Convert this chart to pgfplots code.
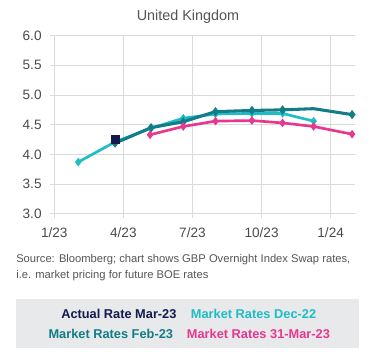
\documentclass[border=0pt]{standalone}
\usepackage{pgfplots}
\pgfplotsset{compat=1.18}
\usepackage{fontspec}
\setmainfont{Liberation Sans}
\definecolor{navy}{HTML}{141A4C}
\definecolor{cyanl}{HTML}{1EBDC5}
\definecolor{tealc}{HTML}{137D87}
\definecolor{pinkc}{HTML}{E8378F}
\definecolor{gridc}{HTML}{DADADA}
\definecolor{txtg}{HTML}{555555}
\definecolor{tickg}{HTML}{4A4A4A}
\definecolor{boxg}{HTML}{E8E9EB}
\begin{document}
\begin{tikzpicture}
\useasboundingbox (0,0) rectangle (281.25pt,273pt);
\begin{axis}[
  at={(40.725pt,112.725pt)}, anchor=south west,
  scale only axis, width=225.75pt, height=133.5pt,
  xmin=0, xmax=13.07, ymin=3, ymax=6,
  axis line style={draw=none},
  xtick={0,3,6,9,12}, xticklabels={1/23,4/23,7/23,10/23,1/24},
  ytick={3,3.5,4,4.5,5,5.5,6},
  /pgf/number format/fixed,
  /pgf/number format/fixed zerofill,
  /pgf/number format/precision=1,
  /pgf/number format/assume math mode=true,
  tick label style={font=\fontsize{10.2}{12}\selectfont, text=tickg},
  xticklabel style={yshift=-4pt},
  yticklabel style={xshift=-3pt},
  grid=major, major grid style={draw=gridc, line width=0.7pt},
  tick style={draw=gridc, line width=0.7pt},
  tick align=outside, major tick length=3pt,
  xtick pos=bottom, ytick pos=left,
  clip=false,
]
\addplot[cyanl, line width=2pt, mark=diamond*, mark size=1.6pt, mark options={solid}] coordinates {
 (1.04,3.87) (2.64,4.21) (4.2,4.44) (5.6,4.61) (7.0,4.68) (8.58,4.69) (9.91,4.69) (11.26,4.56)};
\addplot[tealc, line width=2.3pt, mark=diamond*, mark size=1.6pt, mark indices={1,2,3,4,5,6,8}] coordinates {
 (2.64,4.19) (4.2,4.45) (5.6,4.55) (7.0,4.72) (8.58,4.74) (9.91,4.75) (11.26,4.77) (12.93,4.67)};
\addplot[pinkc, line width=2pt, mark=diamond*, mark size=1.6pt] coordinates {
 (4.16,4.33) (5.6,4.47) (7.0,4.56) (8.58,4.57) (9.91,4.53) (11.26,4.47) (12.93,4.34)};
\addplot[only marks, mark=square*, mark size=3pt, navy] coordinates {(2.64,4.25)};
\end{axis}
\node[anchor=base, text=txtg, font=\fontsize{10.8}{13}\selectfont] at (141pt,257.5pt) {United Kingdom};
\node[anchor=base west, inner sep=0pt, text=txtg, font=\fontsize{8.4}{10}\selectfont] at (12pt,76.1pt) {Source: Bloomberg; chart shows GBP Overnight Index Swap rates,};
\node[anchor=base west, inner sep=0pt, text=txtg, font=\fontsize{8.4}{10}\selectfont] at (12pt,64.1pt) {i.e. market pricing for future BOE rates};
\fill[boxg] (12pt,12.2pt) rectangle (269.5pt,48.75pt);
\node[anchor=base west, inner sep=0pt, text=navy, font=\fontsize{9.6}{11}\selectfont\bfseries] at (45.75pt,33.75pt) {Actual Rate Mar-23};
\node[anchor=base west, inner sep=0pt, text=cyanl, font=\fontsize{9.6}{11}\selectfont\bfseries] at (143pt,33.75pt) {Market Rates Dec-22};
\node[anchor=base west, inner sep=0pt, text=tealc, font=\fontsize{9.6}{11}\selectfont\bfseries] at (36.2pt,18.75pt) {Market Rates Feb-23};
\node[anchor=base west, inner sep=0pt, text=pinkc, font=\fontsize{9.6}{11}\selectfont\bfseries] at (140pt,18.75pt) {Market Rates 31-Mar-23};
\end{tikzpicture}
\end{document}
